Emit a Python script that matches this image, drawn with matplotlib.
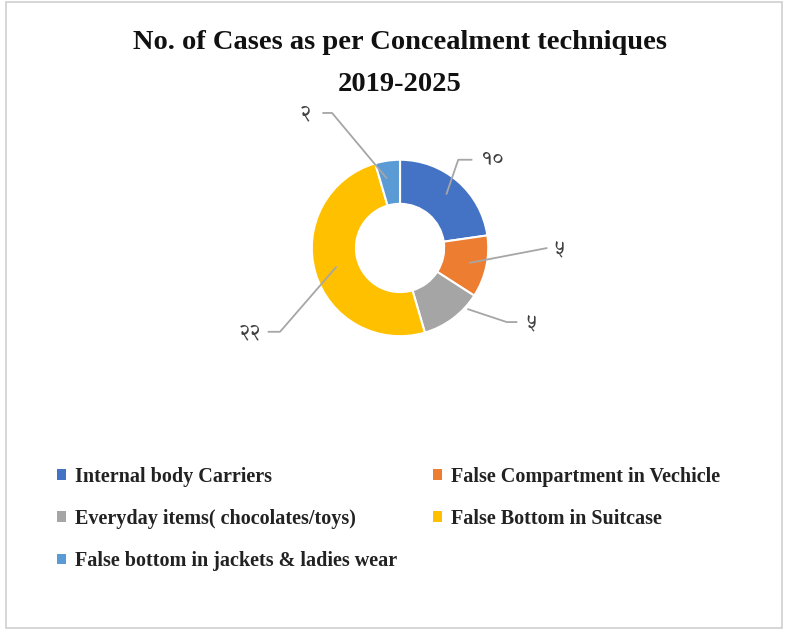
import numpy as np
import matplotlib
matplotlib.use("Agg")
import matplotlib.pyplot as plt
from matplotlib.patches import Rectangle

# data
categories = ["Internal body Carriers", "False Compartment in Vechicle",
              "Everyday items( chocolates/toys)", "False Bottom in Suitcase",
              "False bottom in jackets & ladies wear"]
cases = [10, 5, 5, 22, 2]
case_labels = ["१०", "५", "५", "२२", "२"]
colors = ["#4472C4", "#ED7D31", "#A5A5A5", "#FFC000", "#5B9BD5"]

serif = ["Liberation Serif", "DejaVu Serif"]
deva = ["Tiro Devanagari Hindi", "DejaVu Sans"]

fig = plt.figure(figsize=(7.89, 6.3), dpi=100)
fig.patch.set_facecolor("white")
fig.add_artist(Rectangle((0.0076, 0.003), 0.984, 0.9937, transform=fig.transFigure,
                         fill=False, edgecolor="#D0D0D0", linewidth=1.2))

fig.text(0.507, 0.932, "No. of Cases as per Concealment techniques", ha="center", va="center",
         fontsize=20.5, fontweight="bold", family=serif, color="#111111")
fig.text(0.507, 0.866, "2019-2025", ha="center", va="center",
         fontsize=20.5, fontweight="bold", family=serif, color="#111111")

ax = fig.add_axes([0.3169, 0.3683, 0.3802, 0.4762])
wedges, _ = ax.pie(cases, colors=colors, startangle=90, counterclock=False,
                   radius=1.0, wedgeprops=dict(width=0.5, edgecolor="white", linewidth=1.5))
ax.set_xlim(-1.7, 1.7)
ax.set_ylim(-1.7, 1.7)
ax.set_aspect("equal")
ax.axis("off")

# leader lines: angle shift from wedge middle, anchor radius, elbow, end of line
shift = [0, 0, 11, 0, 2.5]
anchor_r = [0.8, 0.8, 1.03, 0.75, 0.8]
elbows = [(0.66, 1.0), None, (1.21, -0.84), (-1.36, -0.95), (-0.77, 1.53)]
ends = [(0.82, 1.0), (1.67, 0.0), (1.33, -0.84), (-1.50, -0.95), (-0.88, 1.53)]
gaps = [0.11, 0.07, 0.09, 0.07, 0.13]
for w, s, r, el, en, g, lab in zip(wedges, shift, anchor_r, elbows, ends, gaps, case_labels):
    ang = np.deg2rad((w.theta1 + w.theta2) / 2 + s)
    pts = [(r * np.cos(ang), r * np.sin(ang))]
    if el is not None:
        pts.append(el)
    pts.append(en)
    xs, ys = zip(*pts)
    ax.plot(xs, ys, color="#A6A6A6", linewidth=1.3, solid_capstyle="butt", clip_on=False)
    if en[0] > 0:
        ax.text(en[0] + g, en[1], lab, ha="left", va="center", fontsize=15,
                family=deva, color="#404040", clip_on=False)
    else:
        ax.text(en[0] - g, en[1], lab, ha="right", va="center", fontsize=15,
                family=deva, color="#404040", clip_on=False)

order = [0, 2, 4, 1, 3]
leg = fig.legend([wedges[i] for i in order], [categories[i] for i in order],
                 ncol=2, loc="upper left", bbox_to_anchor=(0.072, 0.259), frameon=False,
                 borderpad=0, borderaxespad=0,
                 handlelength=0.45, handleheight=0.45, handletextpad=0.45,
                 labelspacing=1.1, columnspacing=1.8,
                 prop=dict(family=serif, weight="bold", size=14.5))
for t in leg.get_texts():
    t.set_color("#222222")
for h in leg.legend_handles:
    h.set_edgecolor("none")

fig.savefig("out.png", dpi=100, facecolor="white")
